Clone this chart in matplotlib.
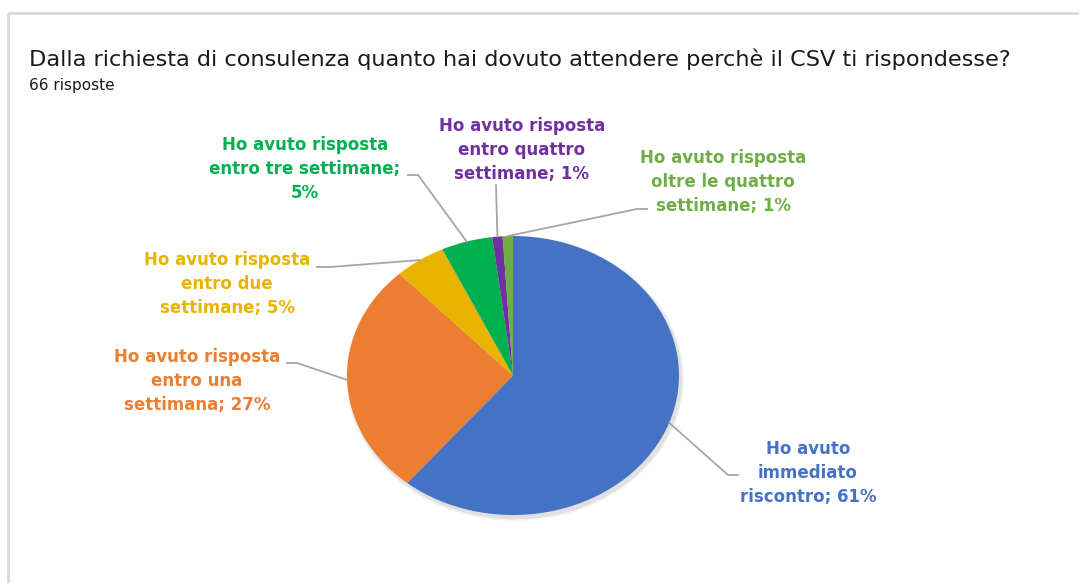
import matplotlib
matplotlib.use("Agg")
import matplotlib.pyplot as plt
import numpy as np
from matplotlib.patches import Ellipse

# ---- data ----
categories = [
    "Ho avuto\nimmediato\nriscontro",
    "Ho avuto risposta\nentro una\nsettimana",
    "Ho avuto risposta\nentro due\nsettimane",
    "Ho avuto risposta\nentro tre settimane;\n",
    "Ho avuto risposta\nentro quattro\nsettimane",
    "Ho avuto risposta\noltre le quattro\nsettimane",
]
percent_labels = ["61%", "27%", "5%", "5%", "1%", "1%"]
values = [61, 27, 5, 5, 1, 1]
colors = ["#4472C4", "#ED7D31", "#E8B400", "#00B050", "#7030A0", "#70AD47"]
title = "Dalla richiesta di consulenza quanto hai dovuto attendere perchè il CSV ti rispondesse?"
subtitle = "66 risposte"

W, H = 1079, 583
fig = plt.figure(figsize=(W / 100, H / 100), dpi=100)
fig.patch.set_facecolor("white")

# pie geometry (pixels)
cx, cy, rx, ry = 513, 375.5, 166, 139.5

# shadow
sh = fig.add_axes([0, 0, 1, 1], zorder=0)
sh.set_xlim(0, W); sh.set_ylim(H, 0); sh.axis("off")
for k, a in [(6, 0.03), (4, 0.04), (2, 0.05)]:
    sh.add_patch(Ellipse((cx + 2, cy + 3), 2 * rx + k, 2 * ry + k, color="black", alpha=a, lw=0))

pax = fig.add_axes([(cx - rx) / W, (H - cy - ry) / H, 2 * rx / W, 2 * ry / H], zorder=1)
wedges, _ = pax.pie(values, colors=colors, startangle=90, counterclock=False,
                    radius=1, wedgeprops=dict(linewidth=0))
pax.set_xlim(-1, 1); pax.set_ylim(-1, 1); pax.set_aspect("auto"); pax.axis("off")

ax = fig.add_axes([0, 0, 1, 1], zorder=2)
ax.set_xlim(0, W); ax.set_ylim(H, 0); ax.axis("off"); ax.patch.set_visible(False)

# frame
ax.plot([8, W], [13, 13], color="#D9D9D9", lw=2, solid_capstyle="butt")
ax.plot([8, 8], [13, H], color="#D9D9D9", lw=2, solid_capstyle="butt")

ax.text(29, 66, title, fontsize=16.15, family="DejaVu Sans", color="#1a1a1a",
        ha="left", va="baseline")
ax.text(29, 90, subtitle, fontsize=11, family="DejaVu Sans", color="#1a1a1a",
        ha="left", va="baseline")

# label layout (pixel positions): text center x, middle line y, elbow points
layout = [
    dict(x=808, y=473, path=[(728, 475), (738, 475)]),
    dict(x=197, y=381, path=[(297, 363), (287, 363)]),
    dict(x=227, y=284, path=[(330, 267), (317, 267)]),
    dict(x=305, y=169, path=[(418, 175), (408, 175)]),
    dict(x=522, y=150, path=[(496, 185)]),
    dict(x=723, y=182, path=[(637, 209), (647, 209)]),
]

for w, cat, pct, col, lay in zip(wedges, categories, percent_labels, colors, layout):
    t = np.deg2rad((w.theta1 + w.theta2) / 2)
    px, py = cx + rx * np.cos(t), cy - ry * np.sin(t)
    pts = [(px, py)] + lay["path"]
    xs, ys = zip(*pts)
    ax.plot(xs, ys, color="#A6A6A6", lw=1.3)
    if cat.endswith("\n"):
        txt = cat + pct
    else:
        txt = cat + "; " + pct
    ax.text(lay["x"], lay["y"], txt, ha="center", va="center", color=col,
            fontsize=12, family="DejaVu Sans", fontweight="bold", linespacing=1.42)

fig.savefig("out.png", dpi=100, facecolor="white")
